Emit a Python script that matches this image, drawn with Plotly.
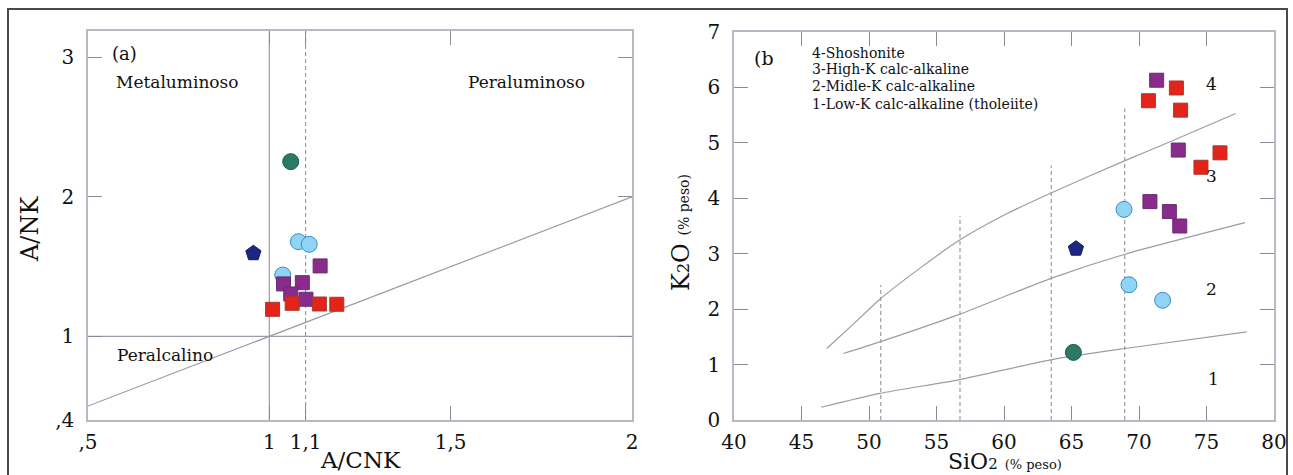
import plotly.graph_objects as go

# ---------------- data : panel (a)  A/CNK vs A/NK ----------------
a_red_x = [1.009, 1.063, 1.138, 1.186]
a_red_y = [1.194, 1.237, 1.232, 1.230]
a_purple_x = [1.140, 1.039, 1.091, 1.059, 1.101]
a_purple_y = [1.505, 1.376, 1.385, 1.304, 1.266]
a_lblue_x = [1.080, 1.110, 1.037]
a_lblue_y = [1.679, 1.660, 1.440]
a_green_x = [1.059]
a_green_y = [2.253]
a_navy_x = [0.956]
a_navy_y = [1.596]

a_xticks = [0.5, 1, 1.1, 1.5, 2]
a_xticktext = [",5", "1", "1,1", "1,5", "2"]
a_yticks = [0.4, 1, 2, 3]
a_yticktext = [",4", "1", "2", "3"]

# reference lines of panel (a)
a_diag_x = [0.5, 2.0]
a_diag_y = [0.5, 2.0]

# ---------------- data : panel (b)  SiO2 vs K2O ----------------
b_red_x = [70.70, 72.77, 73.08, 74.59, 76.00]
b_red_y = [5.76, 5.99, 5.59, 4.56, 4.82]
b_purple_x = [71.31, 72.91, 70.81, 72.25, 73.02]
b_purple_y = [6.13, 4.87, 3.94, 3.76, 3.50]
b_lblue_x = [68.89, 69.26, 71.75]
b_lblue_y = [3.80, 2.44, 2.16]
b_green_x = [65.14]
b_green_y = [1.22]
b_navy_x = [65.33]
b_navy_y = [3.09]

# series boundaries (Peccerillo & Taylor type)
shosh_x = [46.87, 48.84, 50.81, 53.78, 56.74, 60.20, 63.53, 68.96, 72.30, 77.16]
shosh_y = [1.29, 1.73, 2.18, 2.74, 3.25, 3.72, 4.10, 4.68, 5.02, 5.53]
highk_x = [48.10, 50.81, 56.74, 63.53, 68.96, 77.85]
highk_y = [1.20, 1.41, 1.91, 2.56, 2.99, 3.56]
lowk_x = [46.46, 50.81, 56.74, 63.53, 68.96, 77.98]
lowk_y = [0.23, 0.48, 0.73, 1.09, 1.29, 1.59]

dash_x = [50.87, 56.74, 63.50, 68.94]
dash_top = [2.43, 3.68, 4.59, 5.62]

legend_lines = ["4-Shoshonite", "3-High-K calc-alkaline",
                "2-Midle-K calc-alkaline", "1-Low-K calc-alkaline (tholeiite)"]
legend_y = [6.63, 6.34, 6.03, 5.70]
zone_labels = ["4", "3", "2", "1"]
zone_x = [75.4, 75.4, 75.4, 75.55]
zone_y = [6.06, 4.41, 2.36, 0.74]

FONT = "DejaVu Serif"
W, H = 1293, 475
LINE = "#9c9ca8"
FRAME = "#b9b9c6"
TXT = "#111111"

RED = dict(color="#e4231b", line=dict(color="#a33a2c", width=1))
PUR = dict(color="#8b2a8d", line=dict(color="#62306c", width=1))
LBL = dict(color="#8fd4f2", line=dict(color="#3b8cc6", width=1))
GRN = dict(color="#2b7a66", line=dict(color="#1e5a4c", width=1))
NAV = dict(color="#1c2784", line=dict(color="#151c5c", width=1))

fig = go.Figure()

def line(x, y, xa, ya, dash="solid"):
    fig.add_trace(go.Scatter(x=x, y=y, mode="lines", xaxis=xa, yaxis=ya,
                             line=dict(color=LINE, width=1.2, dash=dash),
                             hoverinfo="skip", showlegend=False))

def pts(x, y, xa, ya, sym, style, size):
    fig.add_trace(go.Scatter(x=x, y=y, mode="markers", xaxis=xa, yaxis=ya,
                             marker=dict(symbol=sym, size=size, **style),
                             showlegend=False))

# panel (a) lines
line([1, 1], [0.4, 3.19], "x", "y")
line([1.1, 1.1], [0.4, 3.19], "x", "y", dash="4px,3px")
line([0.5, 2], [1, 1], "x", "y")
line(a_diag_x, a_diag_y, "x", "y")

pts(a_lblue_x, a_lblue_y, "x", "y", "circle", LBL, 16)
pts(a_purple_x, a_purple_y, "x", "y", "square", PUR, 14)
pts(a_red_x, a_red_y, "x", "y", "square", RED, 14)
pts(a_green_x, a_green_y, "x", "y", "circle", GRN, 16)
pts(a_navy_x, a_navy_y, "x", "y", "pentagon", NAV, 16)

# panel (b) lines
for xs, ys in [(shosh_x, shosh_y), (highk_x, highk_y), (lowk_x, lowk_y)]:
    fig.add_trace(go.Scatter(x=xs, y=ys, mode="lines", xaxis="x2", yaxis="y2",
                             line=dict(color=LINE, width=1.2, shape="spline", smoothing=0.6),
                             hoverinfo="skip", showlegend=False))
for dx, dt in zip(dash_x, dash_top):
    line([dx, dx], [0, dt], "x2", "y2", dash="4px,3px")

pts(b_red_x, b_red_y, "x2", "y2", "square", RED, 14)
pts(b_purple_x, b_purple_y, "x2", "y2", "square", PUR, 14)
pts(b_lblue_x, b_lblue_y, "x2", "y2", "circle", LBL, 16)
pts(b_green_x, b_green_y, "x2", "y2", "circle", GRN, 16)
pts(b_navy_x, b_navy_y, "x2", "y2", "pentagon", NAV, 16)

axis_common = dict(showline=True, linecolor=FRAME, linewidth=1.5, mirror="ticks",
                   ticks="inside", ticklen=14, tickcolor="#8a8a96", tickwidth=1.2,
                   showgrid=False, zeroline=False, automargin=False,
                   tickfont=dict(family=FONT, size=20, color=TXT))

def px(v):
    return v / W

def py(v):
    return 1 - v / H

fig.update_layout(
    width=W, height=H, margin=dict(l=0, r=0, t=0, b=0, pad=0, autoexpand=False),
    paper_bgcolor="white", plot_bgcolor="white",
    xaxis=dict(domain=[px(88), px(632)], range=[0.5, 2], tickmode="array",
               tickvals=a_xticks, ticktext=a_xticktext, anchor="y",
               ticklabelstandoff=3, **axis_common),
    yaxis=dict(domain=[py(420), py(31)], range=[0.4, 3.19], tickmode="array",
               tickvals=a_yticks, ticktext=a_yticktext, anchor="x",
               ticklabelstandoff=8, **axis_common),
    xaxis2=dict(domain=[px(734), px(1274)], range=[40, 80], tickmode="array",
                tickvals=list(range(40, 81, 5)), anchor="y2",
                ticklabelstandoff=3, **axis_common),
    yaxis2=dict(domain=[py(420), py(32)], range=[0, 7], tickmode="array",
                tickvals=list(range(0, 8)), anchor="x2",
                ticklabelstandoff=8, **axis_common),
)

ann = []
def text(t, x, y, xref, yref, size, xanchor="center", yanchor="middle", angle=0):
    ann.append(dict(text=t, x=x, y=y, xref=xref, yref=yref, showarrow=False,
                    xanchor=xanchor, yanchor=yanchor, textangle=angle,
                    font=dict(family=FONT, size=size, color=TXT)))

# panel (a) texts
text("(a)", 0.56, 3.03, "x", "y", 18, xanchor="left")
text("Metaluminoso", 0.748, 2.827, "x", "y", 17)
text("Peraluminoso", 1.710, 2.827, "x", "y", 17)
text("Peralcalino", 0.712, 0.866, "x", "y", 17)
# panel (b) texts
text("(b", 41.3, 6.53, "x2", "y2", 19, xanchor="left")
for t, yy in zip(legend_lines, legend_y):
    text(t, 45.6, yy, "x2", "y2", 14, xanchor="left")
for t, xx, yy in zip(zone_labels, zone_x, zone_y):
    text(t, xx, yy, "x2", "y2", 17)

# axis titles
text("A/CNK", px(360), py(475), "paper", "paper", 23, yanchor="bottom")
text("A/NK", px(30), py(229), "paper", "paper", 24, angle=-90)
text("SiO<span style='font-size:15px'>2</span> <span style='font-size:13px'>(% peso)</span>",
     px(1005), py(476), "paper", "paper", 22, yanchor="bottom")
text("K<span style='font-size:16px'>2</span>O <span style='font-size:14px'>(% peso)</span>",
     px(681), py(233), "paper", "paper", 24, angle=-90)
fig.update_layout(annotations=ann)

# outer frame of the figure
fig.add_shape(type="rect", xref="paper", yref="paper",
              x0=px(8), x1=px(1287), y0=-0.02, y1=py(9),
              line=dict(color="#4a4a4a", width=2), layer="above")

fig.write_html("out.html")
